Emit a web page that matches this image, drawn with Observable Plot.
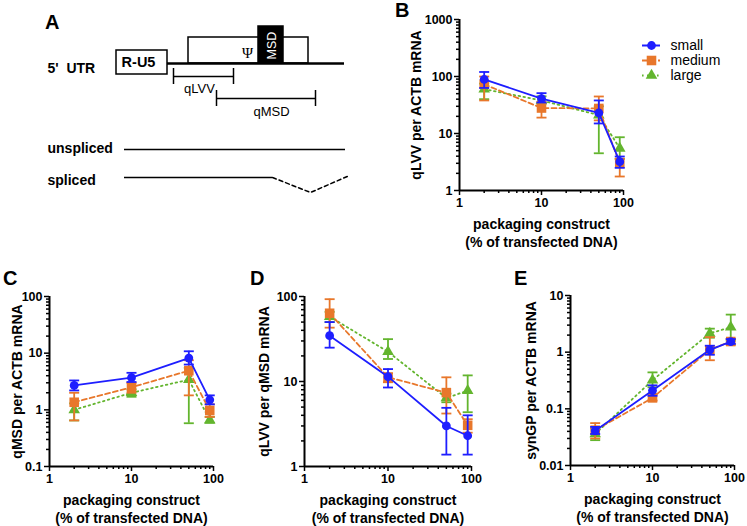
<!DOCTYPE html>
<html><head><meta charset="utf-8">
<script src="https://cdn.jsdelivr.net/npm/d3@7"></script>
<script src="https://cdn.jsdelivr.net/npm/@observablehq/plot@0.6"></script>
<style>
body{margin:0;background:#fff}
#fig{position:relative;width:747px;height:526px;overflow:hidden;background:#fff;font-family:"Liberation Sans",Arial,sans-serif}
.p{position:absolute}
.letter{position:absolute;font-weight:bold;font-size:20px;line-height:20px;color:#000}
</style></head>
<body><div id="fig"></div>
<script>
// ---------- data ----------
const xPct = [2, 10, 50, 90];
const xTicks = [1, 10, 100];
const seriesNames = ["small", "medium", "large"];
const seriesColors = {small: "#1e1eff", medium: "#e8772b", large: "#63b52e"};
const xLabel = "packaging construct\n(% of transfected DNA)";

// [mean, low, high] per xPct
const B_small  = [[89, 63, 120], [41, 35, 51], [23, 15, 38], [3.2, 2.5, 3.95]];
const B_medium = [[73, 38, 100], [28, 19, 36], [27.5, 17, 44.6], [3.0, 1.76, 3.6]];
const B_large  = [[60, 40, 75], [38, 33, 45], [21, 4.5, 30], [5.5, 3.6, 8.6]];
const B_yTicks = [1, 10, 100, 1000];

const C_small  = [[2.7, 2.2, 3.3], [3.7, 3.1, 4.5], [8.2, 6.3, 10.8], [1.5, 1.25, 1.8]];
const C_medium = [[1.36, 0.65, 2.0], [2.5, 2.0, 3.0], [4.9, 1.8, 7.5], [0.97, 0.75, 1.25]];
const C_large  = [[1.0, 0.65, 1.3], [2.0, 1.7, 2.3], [3.4, 0.58, 5.5], [0.66, 0.59, 0.75]];
const C_yTicks = [0.1, 1, 10, 100];

const D_small  = [[34.6, 25, 50], [11.4, 8.5, 14], [3.0, 1.38, 4.9], [2.3, 1.38, 4.0]];
const D_medium = [[63.5, 43, 93], [11.2, 9.8, 12.5], [7.4, 4.2, 11.2], [3.05, 2.5, 3.6]];
const D_large  = [[58, 50, 66], [22.4, 18.4, 31.5], [6.4, 5.7, 7.2], [7.8, 4.35, 11.8]];
const D_yTicks = [1, 10, 100];

const E_small  = [[0.041, 0.036, 0.048], [0.21, 0.17, 0.26], [1.1, 0.9, 1.3], [1.54, 1.4, 1.7]];
const E_medium = [[0.042, 0.030, 0.056], [0.156, 0.14, 0.18], [1.1, 0.72, 1.84], [1.54, 1.35, 1.72]];
const E_large  = [[0.036, 0.028, 0.045], [0.32, 0.24, 0.44], [2.15, 1.8, 2.6], [2.75, 1.6, 4.6]];
const E_yTicks = [0.01, 0.1, 1, 10];

// schematic (panel A), in diagram units
const diagramBoxes = [
  {name: "psi", x1: 188, x2: 308, y1: 37, y2: 63, fill: "white"},
  {name: "MSD", x1: 258, x2: 283, y1: 26, y2: 63, fill: "black"},
  {name: "R-U5", x1: 116, x2: 167, y1: 50, y2: 74, fill: "white"}
];
const backbone = [{x1: 167, x2: 344, y: 63}];
const primers = [
  {name: "qLVV", x1: 173, x2: 233, y: 76, lx: 199, ly: 88},
  {name: "qMSD", x1: 216, x2: 315, y: 98, lx: 271, ly: 111}
];
const transcripts = [
  {name: "unspliced", x1: 124, x2: 345, y: 149},
  {name: "spliced", x1: 124, x2: 272, y: 177}
];
const spliceGap = [{x: 272, y: 177}, {x: 310, y: 192}, {x: 349, y: 175}];
const rowLabels = [
  {text: "5'  UTR", x: 47, y: 68},
  {text: "unspliced", x: 47, y: 148},
  {text: "spliced", x: 47, y: 180}
];

// ---------- helpers ----------
const FONT = "'Liberation Sans', Arial, sans-serif";
const fig = document.getElementById("fig");
function place(node, left, top) {
  node.classList.add("p");
  node.style.left = left + "px";
  node.style.top = top + "px";
  fig.appendChild(node);
}
function letter(t, left, top) {
  const d = document.createElement("div");
  d.className = "letter";
  d.textContent = t;
  d.style.left = left + "px";
  d.style.top = top + "px";
  fig.appendChild(d);
}
const capSymbol = {draw(ctx, size) { const w = Math.sqrt(size / Math.PI); ctx.moveTo(-w, 0); ctx.lineTo(w, 0); }};
const seriesStyle = {
  small:  {dash: null, symbol: "circle", r: 4.4},
  medium: {dash: "5,3", symbol: "square", r: 5.4},
  large:  {dash: "1.6,3.4", symbol: "triangle", r: 4.3}
};
function rows(values, s) {
  return values.map((v, i) => ({x: xPct[i], series: s, y: v[0], lo: v[1], hi: v[2]}));
}
function minorTicks(domain, majors) {
  return d3.scaleLog().domain(domain).ticks().filter(t => !majors.some(m => Math.abs(m - t) / m < 1e-6));
}

function makePanel(cfg) {
  const yDomain = [cfg.yTicks[0], cfg.yTicks[cfg.yTicks.length - 1]];
  const xDomain = [xTicks[0], xTicks[xTicks.length - 1]];
  const marks = [
    Plot.axisX({ticks: minorTicks(xDomain, xTicks), tickSize: 3, tickFormat: () => "", strokeWidth: 1.5, label: null}),
    Plot.axisX({ticks: xTicks, tickSize: 5, tickPadding: 3, tickFormat: d => String(d), strokeWidth: 1.5, label: null}),
    Plot.axisY({ticks: minorTicks(yDomain, cfg.yTicks), tickSize: 3, tickFormat: () => "", strokeWidth: 1.5, label: null}),
    Plot.axisY({ticks: cfg.yTicks, tickSize: 5, tickPadding: 2, tickFormat: d => String(d), strokeWidth: 1.5, label: null}),
    Plot.ruleX([xDomain[0]], {y1: yDomain[0], y2: yDomain[1], strokeWidth: 2}),
    Plot.ruleY([yDomain[0]], {x1: xDomain[0], x2: xDomain[1], strokeWidth: 2})
  ];
  for (const s of ["large", "medium", "small"]) {
    const d = rows(cfg.series[s], s);
    const c = seriesColors[s], st = seriesStyle[s];
    marks.push(
      Plot.line(d, {x: "x", y: "y", stroke: c, strokeWidth: 1.8, strokeDasharray: st.dash}),
      Plot.ruleX(d, {x: "x", y1: "lo", y2: "hi", stroke: c, strokeWidth: 1.8}),
      Plot.dot(d, {x: "x", y: "lo", symbol: capSymbol, r: 5, stroke: c, strokeWidth: 1.8}),
      Plot.dot(d, {x: "x", y: "hi", symbol: capSymbol, r: 5, stroke: c, strokeWidth: 1.8}),
      Plot.dot(d, {x: "x", y: "y", symbol: st.symbol, r: st.r, fill: c, stroke: "none"})
    );
  }
  marks.push(
    Plot.text([cfg.yLabel], {frameAnchor: "left", textAnchor: "middle", lineAnchor: "middle", rotate: -90, dx: cfg.yLabelDx, fontSize: 14, fontWeight: "bold"}),
    Plot.text([xLabel], {frameAnchor: "bottom", textAnchor: "middle", dy: 42, lineAnchor: "middle", lineHeight: 1.22, fontSize: 14, fontWeight: "bold"})
  );
  return Plot.plot({
    width: cfg.width, height: cfg.height,
    marginLeft: cfg.ml, marginRight: cfg.mr, marginTop: cfg.mt, marginBottom: cfg.mb,
    style: {fontFamily: FONT, fontSize: "12.5px", fontWeight: "bold", background: "transparent", color: "#000", overflow: "visible"},
    x: {type: "log", domain: xDomain},
    y: {type: "log", domain: yDomain},
    marks
  });
}

// ---------- panel A ----------
const plotA = Plot.plot({
  width: 370, height: 200, margin: 0,
  style: {fontFamily: FONT, background: "transparent", color: "#000"},
  x: {domain: [0, 370], range: [0, 370], axis: null},
  y: {domain: [0, 200], range: [0, 200], axis: null},
  color: {type: "identity"},
  marks: [
    Plot.rect(diagramBoxes, {x1: "x1", x2: "x2", y1: "y1", y2: "y2", fill: "fill", stroke: "black", strokeWidth: 1.5}),
    Plot.ruleY(backbone, {y: "y", x1: "x1", x2: "x2", strokeWidth: 2.4}),
    Plot.text(["Ψ"], {x: 247, y: 53, fontSize: 15, fontFamily: "'Liberation Serif', serif"}),
    Plot.text(["MSD"], {x: 271, y: 45, rotate: -90, fill: "white", fontSize: 12.5}),
    Plot.text(["R-U5"], {x: 138, y: 62, fontSize: 14.5, fontWeight: "bold"}),
    Plot.ruleY(primers, {y: "y", x1: "x1", x2: "x2", strokeWidth: 1.5}),
    Plot.ruleX(primers.flatMap(p => [{x: p.x1, y: p.y}, {x: p.x2, y: p.y}]), {x: "x", y1: d => d.y - 8, y2: d => d.y + 8, strokeWidth: 1.5}),
    Plot.text(primers, {x: "lx", y: "ly", text: "name", fontSize: 13}),
    Plot.ruleY(transcripts, {y: "y", x1: "x1", x2: "x2", strokeWidth: 1.6}),
    Plot.line(spliceGap, {x: "x", y: "y", strokeWidth: 1.5, strokeDasharray: "4,3"}),
    Plot.text(rowLabels, {x: "x", y: "y", text: "text", textAnchor: "start", fontSize: 14, fontWeight: "bold"})
  ]
});
place(plotA, 0, 0);

// ---------- panels B–E ----------
place(makePanel({series: {small: B_small, medium: B_medium, large: B_large}, yTicks: B_yTicks,
  yLabel: "qLVV per ACTB mRNA", yLabelDx: -43, width: 283, height: 250, ml: 89, mr: 30, mt: 19, mb: 60}), 370, 0);
place(makePanel({series: {small: C_small, medium: C_medium, large: C_large}, yTicks: C_yTicks,
  yLabel: "qMSD per ACTB mRNA", yLabelDx: -32, width: 238, height: 256, ml: 49, mr: 25, mt: 26, mb: 60}), 0, 270);
place(makePanel({series: {small: D_small, medium: D_medium, large: D_large}, yTicks: D_yTicks,
  yLabel: "qLVV per qMSD mRNA", yLabelDx: -40, width: 241, height: 256, ml: 54, mr: 20, mt: 26, mb: 60}), 250, 270);
place(makePanel({series: {small: E_small, medium: E_medium, large: E_large}, yTicks: E_yTicks,
  yLabel: "synGP per ACTB mRNA", yLabelDx: -39, width: 250, height: 256, ml: 73, mr: 13, mt: 25, mb: 61}), 497, 270);

// ---------- legend ----------
const legend = Plot.plot({
  width: 110, height: 80, margin: 0,
  style: {fontFamily: FONT, background: "transparent", color: "#000"},
  x: {domain: [0, 110], range: [0, 110], axis: null},
  y: {type: "point", domain: seriesNames, range: [17, 63], axis: null},
  marks: [
    ...seriesNames.map(s => Plot.ruleY([s], {x1: 12, x2: 30, stroke: seriesColors[s], strokeWidth: 2, strokeDasharray: seriesStyle[s].dash})),
    ...seriesNames.map(s => Plot.dot([s], {x: 21, y: d => d, symbol: seriesStyle[s].symbol, r: seriesStyle[s].r, fill: seriesColors[s], stroke: "none"})),
    Plot.text(seriesNames, {x: 40, y: d => d, text: d => d, textAnchor: "start", fontSize: 14})
  ]
});
place(legend, 630, 20);

letter("A", 45, 12);
letter("B", 395, 0);
letter("C", 3, 268);
letter("D", 250, 268);
letter("E", 514, 268);
</script>
</body></html>
